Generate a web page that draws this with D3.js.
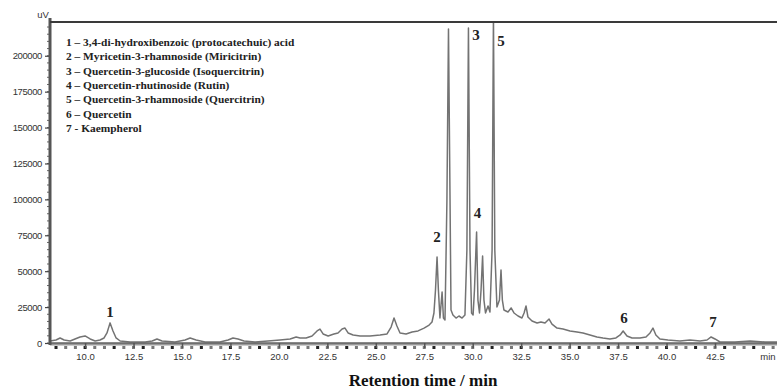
<!DOCTYPE html>
<html>
<head>
<meta charset="utf-8">
<script src="https://cdn.jsdelivr.net/npm/d3@7"></script>
<style>
  html, body { margin: 0; padding: 0; background: #fff; }
  svg { display: block; }
</style>
</head>
<body>
<svg id="chart" width="777" height="392"></svg>
<script>
// HPLC-DAD chromatogram: retention time (min) vs detector signal (uV)
const retentionTime = [
  8.19, 8.50, 8.71, 8.92, 9.23, 9.48, 9.74, 10.00, 10.26, 10.52, 10.77, 10.98,
  11.13, 11.29, 11.44, 11.60, 11.81, 12.32, 13.10, 13.46, 13.71, 13.97, 14.64,
  15.16, 15.42, 15.73, 16.19, 16.96, 17.38, 17.63, 17.89, 18.20, 18.77, 19.44,
  20.06, 20.58, 20.89, 21.09, 21.40, 21.71, 21.97, 22.12, 22.28, 22.54, 22.84,
  23.05, 23.26, 23.41, 23.57, 23.83, 24.19, 24.70, 25.22, 25.58, 25.79, 25.94,
  26.09, 26.25, 26.56, 26.87, 27.18, 27.49, 27.75, 27.90, 28.00, 28.08, 28.16,
  28.23, 28.31, 28.42, 28.49, 28.57, 28.67, 28.75, 28.83, 28.88, 28.98, 29.14,
  29.29, 29.45, 29.60, 29.70, 29.78, 29.86, 29.94, 30.02, 30.09, 30.20, 30.27,
  30.35, 30.43, 30.51, 30.58, 30.66, 30.79, 30.89, 31.00, 31.07, 31.14, 31.25,
  31.38, 31.46, 31.53, 31.61, 31.82, 31.98, 32.13, 32.34, 32.54, 32.65, 32.75,
  32.85, 33.06, 33.32, 33.52, 33.73, 33.94, 34.09, 34.35, 34.66, 35.02, 35.38,
  35.69, 36.05, 36.41, 36.72, 37.08, 37.39, 37.61, 37.76, 37.96, 38.22, 38.63,
  38.94, 39.15, 39.30, 39.45, 39.66, 40.07, 40.69, 41.21, 41.73, 42.09, 42.30,
  42.50, 42.76, 43.53, 44.31, 45.08, 45.70
];
const signal = [
  1400, 2100, 3500, 2100, 1400, 2800, 4200, 4900, 2800, 1400, 2100, 3500,
  7000, 14000, 8400, 3500, 1400, 700, 700, 1400, 2800, 1400, 700,
  2100, 3500, 2100, 700, 700, 2100, 3500, 2800, 1400, 700, 1400,
  2100, 2800, 4200, 3500, 3500, 4900, 8400, 9700, 6300, 4900, 6300,
  7000, 9700, 10400, 7000, 5600, 4900, 4900, 5600, 6300, 11100, 17400,
  11800, 7000, 6300, 7700, 8400, 10400, 12500, 14600, 20900, 36900, 59900,
  36900, 17400, 35500, 17400, 16000, 99600, 218700, 99600, 23000, 19500, 17400,
  18800, 17400, 19500, 64800, 219400, 64800, 20900, 19500, 36900, 77300, 29900,
  20900, 36900, 60600, 29900, 20900, 25800, 21600, 64800, 228400, 64800, 25100,
  29900, 50800, 29900, 23000, 21600, 24400, 20900, 18800, 17400, 20900, 25800,
  18100, 15300, 13900, 14600, 13900, 16700, 13200, 10400, 9700, 8400, 7700,
  7000, 5600, 4200, 3500, 2800, 3500, 5600, 8400, 4900, 3500, 3500,
  4200, 7000, 10400, 5600, 2800, 2100, 1400, 2100, 1400, 2100, 4200,
  2800, 700, 700, 1400, 700, 700
];

// Numbered peaks: retention time of each number and the signal level it sits on
const peakIds = ["1", "2", "3", "4", "5", "6", "7"];
const peakTimes = [11.29, 28.16, 30.17, 30.25, 31.46, 37.8, 42.4];
const peakLabelLevels = [18000, 70000, 211000, 87000, 207000, 14000, 11000];

const yTickValues = [0, 25000, 50000, 75000, 100000, 125000, 150000, 175000, 200000];
const xTickValues = [10.0, 12.5, 15.0, 17.5, 20.0, 22.5, 25.0, 27.5, 30.0, 32.5, 35.0, 37.5, 40.0, 42.5];

const legendLines = [
  "1 \u2013 3,4-di-hydroxibenzoic (protocatechuic) acid",
  "2 \u2013 Myricetin-3-rhamnoside (Miricitrin)",
  "3 \u2013 Quercetin-3-glucoside (Isoquercitrin)",
  "4 \u2013 Quercetin-rhutinoside (Rutin)",
  "5 \u2013 Quercetin-3-rhamnoside (Quercitrin)",
  "6 \u2013 Quercetin",
  "7 - Kaempherol"
];

const W = 777, H = 392;
const margin = { top: 22, right: 0, bottom: 49, left: 50 };
const svg = d3.select("#chart");

const x = d3.scaleLinear().domain([8.19, 45.7]).range([margin.left, W - margin.right]);
const y = d3.scaleLinear().domain([0, 223500]).range([H - margin.bottom, margin.top]);

const serif = "'Liberation Serif', 'DejaVu Serif', serif";
const sans = "'Liberation Sans', Arial, sans-serif";

// clip the trace to the plotting frame
svg.append("defs").append("clipPath").attr("id", "plotClip")
  .append("rect")
  .attr("x", margin.left).attr("y", margin.top)
  .attr("width", W - margin.left).attr("height", H - margin.bottom - margin.top);

// chromatogram trace
const points = retentionTime.map((t, i) => [t, signal[i]]);
const line = d3.line().x(d => x(d[0])).y(d => y(d[1]));
svg.append("path")
  .attr("clip-path", "url(#plotClip)")
  .attr("d", line(points))
  .attr("fill", "none")
  .attr("stroke", "#737373")
  .attr("stroke-width", 1.5)
  .attr("stroke-linejoin", "round");

// x axis: thick baseline, square minor marks every 0.5 min, labelled major ticks
const xAxisY = y(0);
svg.append("line")
  .attr("x1", margin.left).attr("x2", W)
  .attr("y1", xAxisY + 1).attr("y2", xAxisY + 1)
  .attr("stroke", "#9a9a9a").attr("stroke-width", 3);
svg.append("line")
  .attr("x1", margin.left).attr("x2", W)
  .attr("y1", xAxisY).attr("y2", xAxisY)
  .attr("stroke", "#444").attr("stroke-width", 1);
const minorX = d3.range(8.5, 45.6, 0.5);
svg.append("g").selectAll("rect").data(minorX).join("rect")
  .attr("x", d => x(d) - 1.5).attr("y", xAxisY + 3)
  .attr("width", 3).attr("height", 3)
  .attr("fill", (d, i) => (i % 3 === 0 ? "#222" : "#777"));

const xAxis = d3.axisBottom(x).tickValues(xTickValues).tickFormat(d3.format(".1f")).tickSize(5);
const gx = svg.append("g").attr("transform", `translate(0,${xAxisY})`).call(xAxis);
gx.select(".domain").remove();
gx.selectAll(".tick line").attr("stroke", "#555").attr("stroke-width", 1.5);
gx.selectAll(".tick text")
  .attr("font-family", sans).attr("font-size", 9.5).attr("fill", "#333").attr("dy", "0.9em");
svg.append("text")
  .attr("x", 768).attr("y", xAxisY + 17)
  .attr("text-anchor", "middle")
  .attr("font-family", sans).attr("font-size", 9.5).attr("fill", "#333")
  .text("min");

// y axis: thick spine with minor ticks every 5000 uV
const minorY = d3.range(0, 223000, 5000);
svg.append("g").selectAll("line").data(minorY).join("line")
  .attr("x1", margin.left - 3).attr("x2", margin.left)
  .attr("y1", d => y(d)).attr("y2", d => y(d))
  .attr("stroke", "#666").attr("stroke-width", 1);
const yAxis = d3.axisLeft(y).tickValues(yTickValues).tickFormat(d3.format("d")).tickSize(5);
const gy = svg.append("g").attr("transform", `translate(${margin.left},0)`).call(yAxis);
gy.select(".domain").remove();
gy.selectAll(".tick line").attr("stroke", "#444").attr("stroke-width", 1.2);
gy.selectAll(".tick text")
  .attr("font-family", sans).attr("font-size", 9.5).attr("fill", "#333")
  .attr("letter-spacing", "-0.4");
svg.append("line")
  .attr("x1", margin.left).attr("x2", margin.left)
  .attr("y1", margin.top - 4).attr("y2", xAxisY + 2)
  .attr("stroke", "#555").attr("stroke-width", 3);
svg.append("text")
  .attr("x", 43).attr("y", 18)
  .attr("text-anchor", "middle")
  .attr("font-family", sans).attr("font-size", 9.5).attr("fill", "#333")
  .text("uV");

// top frame line
svg.append("line")
  .attr("x1", margin.left).attr("x2", W)
  .attr("y1", margin.top).attr("y2", margin.top)
  .attr("stroke", "#3a3a3a").attr("stroke-width", 2);

// peak numbers
svg.append("g").selectAll("text").data(peakIds).join("text")
  .attr("x", (d, i) => x(peakTimes[i]))
  .attr("y", (d, i) => y(peakLabelLevels[i]))
  .attr("text-anchor", "middle")
  .attr("font-family", serif).attr("font-weight", "bold")
  .attr("font-size", 15).attr("fill", "#222")
  .text(d => d);

// compound legend
svg.append("g").selectAll("text").data(legendLines).join("text")
  .attr("x", 66)
  .attr("y", (d, i) => 46 + i * 14.3)
  .attr("font-family", serif).attr("font-weight", "bold")
  .attr("font-size", 11.4).attr("fill", "#222")
  .text(d => d);

// axis title
svg.append("text")
  .attr("x", 423).attr("y", 386)
  .attr("text-anchor", "middle")
  .attr("font-family", serif).attr("font-weight", "bold")
  .attr("font-size", 17).attr("fill", "#111")
  .text("Retention time / min");
</script>
</body>
</html>
